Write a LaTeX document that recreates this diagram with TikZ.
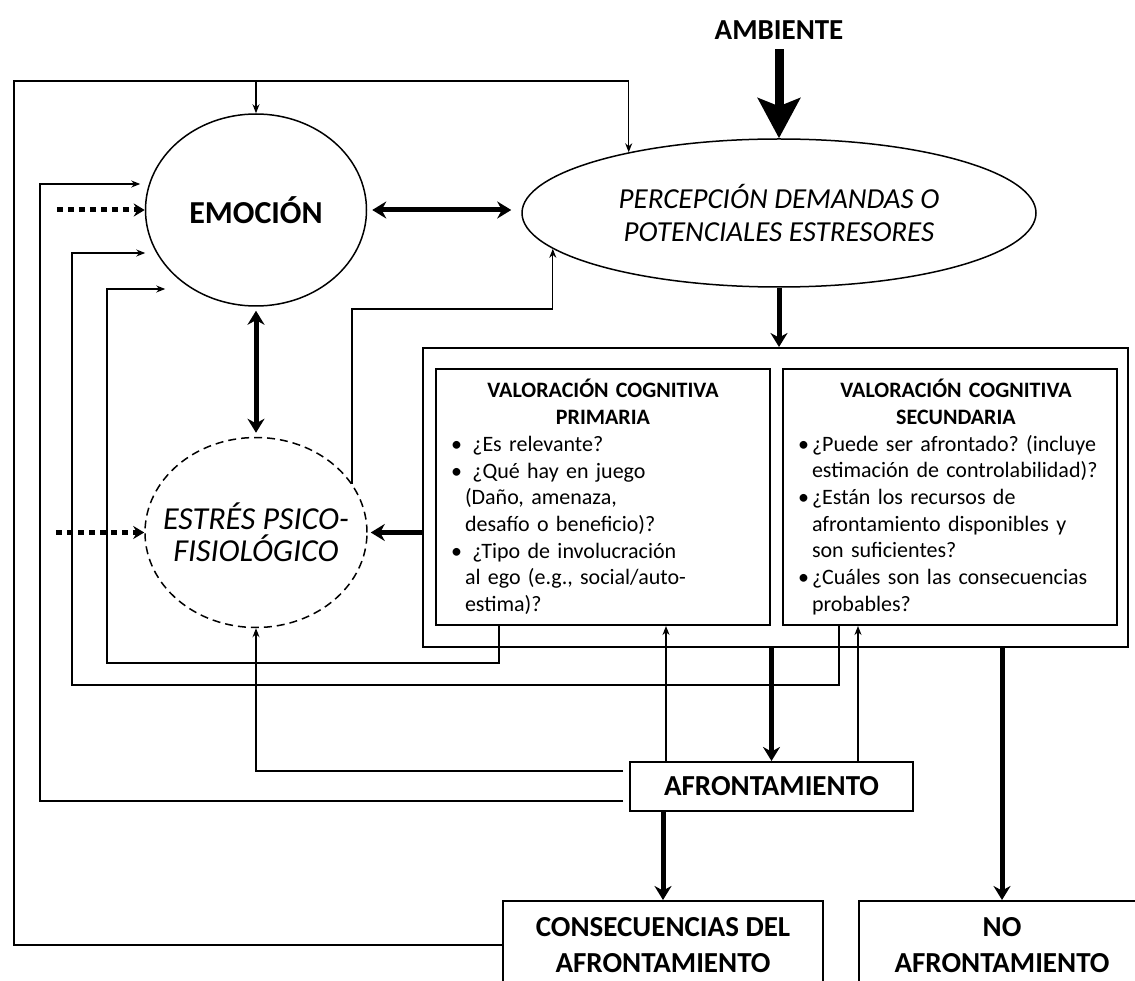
\documentclass[tikz,border=0pt]{standalone}
\usepackage{fontspec}
\setmainfont{Carlito}
\usetikzlibrary{arrows.meta,shapes,positioning}
\newcommand{\vi}{\makebox[14pt][l]{\textbullet}}
\newcommand{\vc}{\hspace*{14pt}}
\frenchspacing
\begin{document}
\begin{tikzpicture}[x=1pt,y=-1pt,>={Stealth[length=9pt,width=7pt]},line width=1.3pt]
      \tikzstyle{elip}=[ellipse,draw,line width=1.5pt,inner sep=0pt,align=center]
      \tikzstyle{caja}=[rectangle,draw,line width=2pt,align=center]
      \tikzstyle{val}=[rectangle,draw,line width=2pt,anchor=north west,text width=304pt,inner xsep=15pt,minimum height=256pt,align=left,font=\fontsize{22}{26.7}\selectfont]
      \tikzstyle{gruesa}=[line width=5pt,>={Stealth[length=14pt,width=17pt]}]
      \tikzstyle{punteada}=[line width=5pt,dash pattern=on 6pt off 5pt,>={Stealth[length=11pt,width=13pt]}]
      \useasboundingbox (0,0) rectangle (1135,981);
      \clip (0,0) rectangle (1135,981);
      \node[font=\bfseries\fontsize{29}{34}\selectfont](amb) at (779,30){AMBIENTE};
      \node[elip,minimum width=514pt,minimum height=148pt,font=\itshape\fontsize{29}{33}\selectfont](perc) at (779,213){PERCEPCIÓN DEMANDAS O\\POTENCIALES ESTRESORES};
      \node[elip,minimum width=221pt,minimum height=192pt,font=\bfseries\fontsize{32}{36}\selectfont](emo) at (256,210){EMOCIÓN};
      \node[elip,dash pattern=on 8pt off 5pt,below=130pt of emo,minimum width=222pt,minimum height=190pt,inner xsep=-20pt,font=\itshape\fontsize{32}{32}\selectfont](estres){ESTRÉS PSICO-\\FISIOLÓGICO};
      \node[caja,minimum width=705pt,minimum height=299pt](val-box) at (775.5,497.5){};
      \node[val](val-pri) at (435,368){%
        {\centering\bfseries VALORACIÓN COGNITIVA\\PRIMARIA\par}
        \vi\ ¿Es relevante?\\
        \vi\ ¿Qué hay en juego\\
        \vc(Daño, amenaza,\\
        \vc desafío o beneficio)?\\
        \vi\ ¿Tipo de involucración\\
        \vc al ego (e.g., social/auto-\\
        \vc estima)?};
      \node[val,right=11pt of val-pri](val-sec){%
        {\centering\bfseries\hspace*{12pt}VALORACIÓN COGNITIVA\\\hspace*{12pt}SECUNDARIA\par}
        \vi¿Puede ser afrontado? (incluye\\
        \vc estimación de controlabilidad)?\\
        \vi¿Están los recursos de\\
        \vc afrontamiento disponibles y\\
        \vc son suficientes?\\
        \vi¿Cuáles son las consecuencias\\
        \vc probables?};
      \node[caja,minimum width=283pt,minimum height=49pt,font=\bfseries\fontsize{29}{34}\selectfont](afr) at (771.5,786.5){AFRONTAMIENTO};
      \node[caja,minimum width=320pt,minimum height=88pt,font=\bfseries\fontsize{29}{36}\selectfont](cons) at (663,945){CONSECUENCIAS DEL\\AFRONTAMIENTO};
      \node[caja,right=34pt of cons,minimum width=286pt,minimum height=88pt,font=\bfseries\fontsize{29}{36}\selectfont](no-afr){NO\\AFRONTAMIENTO};
      \draw[line width=9pt,-{Stealth[length=40pt,width=42pt,inset=8pt]},shorten <=6pt](amb)--(perc.north);
      \draw[gruesa,<->,shorten <=5pt,shorten >=10pt](emo.east)--(emo.east -| perc.west);
      \draw[gruesa,<->,shorten <=4pt,shorten >=4pt](emo.south)--(estres.north);
      \draw[gruesa,->](perc.south)--(perc.south |- val-box.north);
      \draw[gruesa,->,shorten >=3pt](estres.east -| val-box.west)--(estres.east);
      \draw[gruesa,->](val-box.south -| afr.north)--(afr.north);
      \draw[gruesa,->](afr.south -| cons.north)--(cons.north);
      \draw[gruesa,->](val-box.south -| no-afr.north)--(no-afr.north);
      \draw[punteada,->]([xshift=-88pt]emo.west)--(emo.west);
      \draw[punteada,->]([xshift=-88pt]estres.west)--(estres.west);
      \draw[->](cons.west)-|(14,81)-|(perc.158);
      \draw[->](emo.north |- 0,81)--(emo.north);
      \draw[->]([xshift=-104pt]val-pri.south)|-(107,663)|-([xshift=20.5pt,yshift=-79pt]emo.west);
      \draw[->]([xshift=-111pt]val-sec.south)|-(72,685)|-([xshift=0.5pt,yshift=-43pt]emo.west);
      \draw[->]([xshift=-6pt,yshift=-14.5pt]afr.west)--(40,801)|-([xshift=-4.5pt,yshift=26pt]emo.west);
      \draw[->]([xshift=-6pt,yshift=15.5pt]afr.west)-|(estres.south);
      \draw[->](afr.north -| 666,0)--(val-pri.south -| 666,0);
      \draw[->](afr.north -| 858,0)--(val-sec.south -| 858,0);
      \draw[->](estres.27)|-(perc.189 |- 0,309)--(perc.189);
    \end{tikzpicture}
\end{document}
